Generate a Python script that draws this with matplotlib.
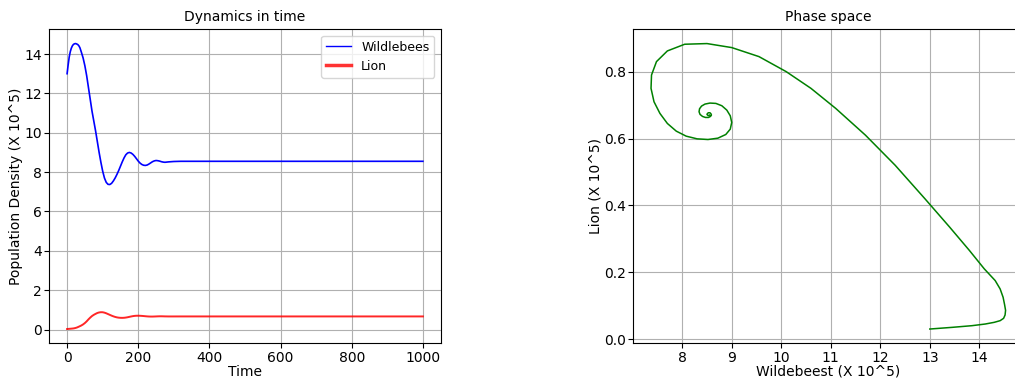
import numpy as np
import matplotlib
matplotlib.use("Agg")
import matplotlib.pyplot as plt

# values (population in units of 10^5)
time = [0, 3, 6, 9, 12, 15, 18, 21, 24, 27, 30, 33, 36, 40, 45, 50, 55, 60,
        65, 70, 75, 80, 85, 90, 95, 100, 105, 110, 115, 120, 125, 130, 135,
        140, 145, 150, 155, 160, 165, 170, 175, 180, 185, 190, 195, 200, 205,
        210, 215, 220, 225, 230, 235, 240, 245, 250, 255, 260, 265, 270, 275,
        285, 300, 320, 350, 400, 500, 600, 700, 800, 900, 1000]
wildebeest = [13.0, 13.45, 13.85, 14.12, 14.3, 14.42, 14.49, 14.52, 14.53,
              14.51, 14.48, 14.42, 14.32, 14.1, 13.8, 13.4, 12.9, 12.3, 11.7,
              11.1, 10.6, 10.1, 9.55, 9.0, 8.5, 8.05, 7.7, 7.48, 7.38, 7.37,
              7.43, 7.55, 7.7, 7.88, 8.08, 8.3, 8.52, 8.72, 8.88, 8.97, 9.0,
              8.97, 8.9, 8.8, 8.68, 8.56, 8.46, 8.39, 8.35, 8.34, 8.36, 8.41,
              8.47, 8.53, 8.57, 8.59, 8.58, 8.56, 8.53, 8.51, 8.5, 8.52, 8.54,
              8.55, 8.55, 8.55, 8.55, 8.55, 8.55, 8.55, 8.55, 8.55]
lion = [0.030, 0.035, 0.040, 0.045, 0.050, 0.055, 0.062, 0.072, 0.086, 0.103,
        0.125, 0.15, 0.175, 0.21, 0.265, 0.335, 0.42, 0.52, 0.61, 0.69, 0.75,
        0.80, 0.845, 0.872, 0.884, 0.882, 0.862, 0.83, 0.79, 0.75, 0.71,
        0.675, 0.645, 0.622, 0.607, 0.599, 0.597, 0.601, 0.612, 0.628, 0.648,
        0.668, 0.685, 0.698, 0.705, 0.706, 0.703, 0.697, 0.689, 0.68, 0.672,
        0.666, 0.663, 0.663, 0.666, 0.67, 0.674, 0.677, 0.677, 0.675, 0.672,
        0.669, 0.669, 0.67, 0.67, 0.67, 0.67, 0.67, 0.67, 0.67, 0.67, 0.67]

fig = plt.figure(figsize=(10.15, 3.82), dpi=100)

# left panel: time series
ax1 = fig.add_axes([49.3 / 1015, 1 - 343.3 / 382, 391.4 / 1015, 314 / 382])
ax1.plot(time, wildebeest, color="blue", lw=1.2, label="Wildlebees")
ax1.plot(time, lion, color="red", lw=1.4, alpha=0.85, label="Lion")
ax1.set_title("Dynamics in time", fontsize=10)
ax1.set_xlabel("Time", fontsize=10, labelpad=0)
ax1.set_ylabel("Population Density (X 10^5)", fontsize=10, labelpad=1)
ax1.tick_params(pad=2)
ax1.grid(True)
handles = [plt.Line2D([], [], color="blue", lw=1),
           plt.Line2D([], [], color="red", lw=2.5, alpha=0.8)]
ax1.legend(handles, ["Wildlebees", "Lion"], loc="upper right", fontsize=9)

# right panel: phase space (extends past the right edge, as in the reference)
ax2 = fig.add_axes([633.3 / 1015, 1 - 343.3 / 382, 390 / 1015, 314 / 382])
ax2.plot(wildebeest, lion, color="green", lw=1.1)
ax2.set_xticks(range(8, 15))
ax2.set_title("Phase space", fontsize=10)
ax2.set_xlabel("Wildebeest (X 10^5)", fontsize=10, labelpad=0)
ax2.set_ylabel("Lion (X 10^5)", fontsize=10, labelpad=1)
ax2.tick_params(pad=2)
ax2.grid(True)

fig.savefig("out.png", dpi=100)
